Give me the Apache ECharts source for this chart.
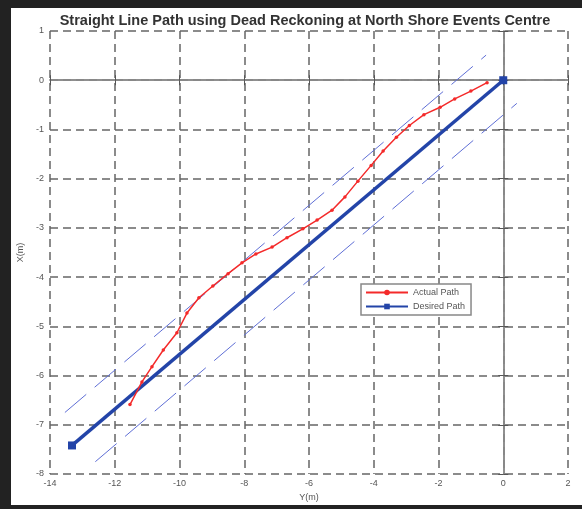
<!DOCTYPE html>
<html><head><meta charset="utf-8">
<script src="https://cdn.jsdelivr.net/npm/echarts@6/dist/echarts.min.js"></script>
<style>html,body{margin:0;padding:0;background:#fff}#c{width:582px;height:509px}</style>
</head><body><div id="c"></div>
<script>
const titleText = 'Straight Line Path using Dead Reckoning at North Shore Events Centre';
const xTicks = [-14,-12,-10,-8,-6,-4,-2,0,2];
const yTicks = [1,0,-1,-2,-3,-4,-5,-6,-7,-8];
// Actual path (Y, X) in metres
const actualY = [-0.5,-1.0,-1.5,-1.95,-2.45,-2.9,-3.3,-3.71,-4.08,-4.49,-4.89,-5.29,-5.75,-6.19,-6.68,-7.14,-7.64,-8.07,-8.5,-8.97,-9.4,-9.77,-10.08,-10.5,-10.85,-11.16,-11.53];
const actualX = [-0.05,-0.22,-0.38,-0.55,-0.7,-0.92,-1.16,-1.44,-1.73,-2.05,-2.37,-2.64,-2.84,-3.02,-3.2,-3.39,-3.53,-3.71,-3.93,-4.18,-4.42,-4.73,-5.13,-5.48,-5.82,-6.13,-6.59];
// Desired path
const desiredY = [-13.32, 0];
const desiredX = [-7.42, 0];
// Tolerance bounds
const upperY = [-13.54, -0.53];
const upperX = [-6.75, 0.51];
const lowerY = [-12.6, 0.42];
const lowerX = [-7.75, -0.47];

const zip = (a,b) => a.map((v,i)=>[v,b[i]]);
const chart = echarts.init(document.getElementById('c'), null, {renderer:'canvas'});
const font = 'Liberation Sans, Arial, sans-serif';
const gridLine = {show:true, lineStyle:{color:'#666', width:1.5, type:[8,5]}};
chart.setOption({
  backgroundColor:'#fff',
  animation:false,
  title:{text:titleText, left:300, top:8, textAlign:'center',
    textStyle:{fontFamily:font, fontSize:14.5, fontWeight:'bold', color:'#333'}},
  grid:{left:50, right:14, top:31, bottom:35},
  legend:{
    orient:'vertical', left:361, top:284, padding:[4,6,4,4],
    backgroundColor:'#fff', borderColor:'#888', borderWidth:1.5, itemGap:5,
    itemWidth:42, itemHeight:7,
    textStyle:{fontFamily:font, fontSize:9, color:'#555'},
    data:['Actual Path','Desired Path']
  },
  xAxis:[{
    type:'value', min:-14, max:2, interval:2, name:'Y(m)', nameLocation:'middle', nameGap:19,
    nameTextStyle:{fontFamily:font, fontSize:9, color:'#555'},
    axisLine:{show:true, lineStyle:{color:'#888', width:1.5}},
    axisTick:{show:true, inside:true, length:5, lineStyle:{color:'#555'}},
    axisLabel:{fontFamily:font, fontSize:9, color:'#555', margin:5, formatter:v=>String(v)},
    splitLine:gridLine
  },{
    type:'value', position:'top', min:-14, max:2, interval:2,
    axisLine:{show:true, lineStyle:{color:'#888', width:1.5}},
    axisTick:{show:true, inside:true, length:5, lineStyle:{color:'#555'}},
    axisLabel:{show:false}, splitLine:{show:false}
  }],
  yAxis:[{
    type:'value', min:-8, max:1, interval:1, name:'X(m)', nameLocation:'middle', nameGap:22,
    nameRotate:90,
    nameTextStyle:{fontFamily:font, fontSize:9, color:'#555'},
    axisLine:{show:true, lineStyle:{color:'#888', width:1.5}},
    axisTick:{show:true, inside:true, length:5, lineStyle:{color:'#555'}},
    axisLabel:{fontFamily:font, fontSize:9, color:'#555', margin:6, formatter:v=>String(v)},
    splitLine:gridLine
  },{
    type:'value', position:'right', min:-8, max:1, interval:1,
    axisLine:{show:true, lineStyle:{color:'#888', width:1.5}},
    axisTick:{show:true, inside:true, length:5, lineStyle:{color:'#555'}},
    axisLabel:{show:false}, splitLine:{show:false}
  }],
  graphic:[
    {type:'rect', left:0, top:0, shape:{width:11, height:509}, style:{fill:'#222'}, z:100},
    {type:'rect', left:0, top:0, shape:{width:582, height:8}, style:{fill:'#222'}, z:100},
    {type:'rect', left:0, top:505, shape:{width:582, height:4}, style:{fill:'#222'}, z:100}
  ],
  series:[
    {name:'Upper', type:'line', data:zip(upperY, upperX), symbol:'none', silent:true,
      lineStyle:{color:'#5f6fd6', width:1, type:[28,11]}, z:2},
    {name:'Lower', type:'line', data:zip(lowerY, lowerX), symbol:'none', silent:true,
      lineStyle:{color:'#5f6fd6', width:1, type:[28,11]}, z:2},
    {name:'Desired Path', type:'line', data:zip(desiredY, desiredX), symbol:'rect', symbolSize:8,
      itemStyle:{color:'#2344a8'}, lineStyle:{color:'#2344a8', width:3.5}, z:3},
    {name:'Actual Path', type:'line', data:zip(actualY, actualX), symbol:'circle', symbolSize:3.5,
      itemStyle:{color:'#f42a2a'}, lineStyle:{color:'#f42a2a', width:1.5}, z:4}
  ]
});
</script></body></html>
